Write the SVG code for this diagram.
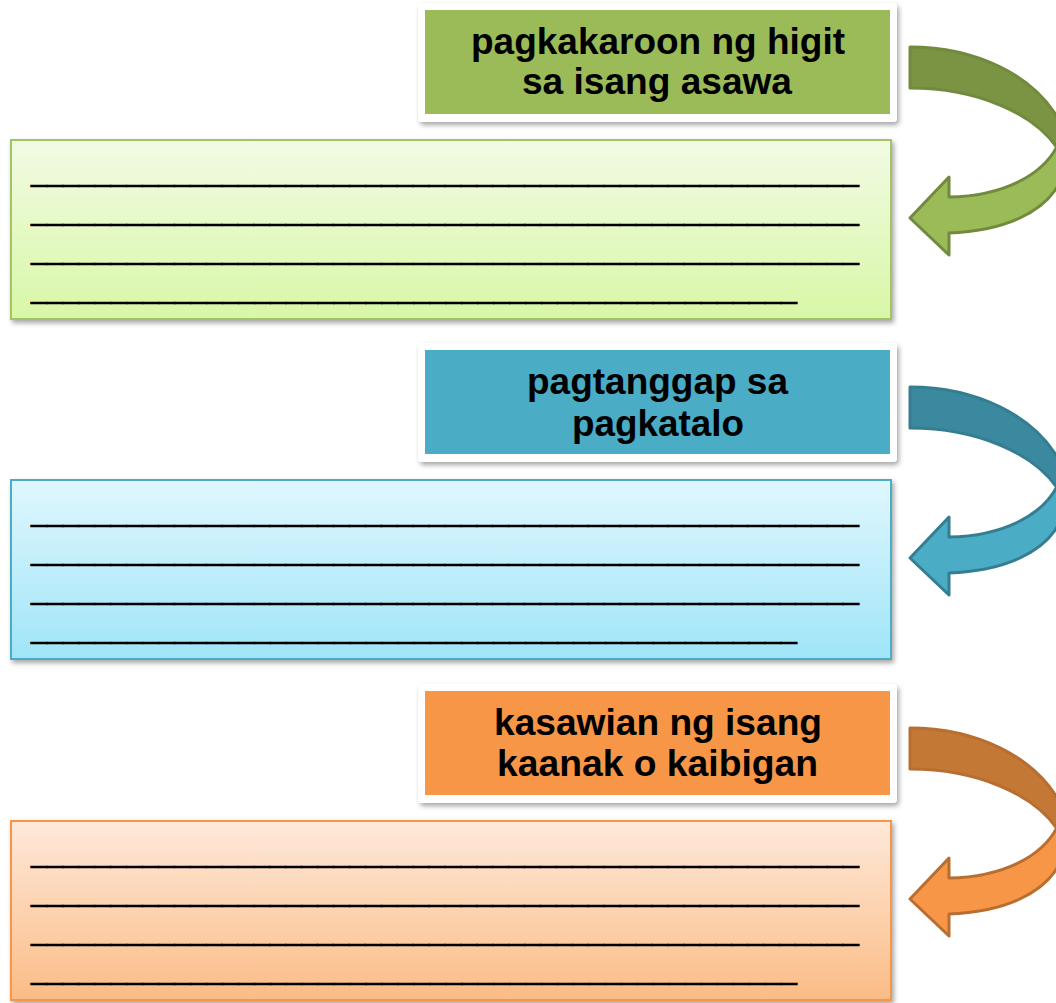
<svg xmlns="http://www.w3.org/2000/svg" width="1056" height="1003" viewBox="0 0 1056 1003">
<defs>
<filter id="sh" x="-5%" y="-10%" width="112%" height="130%">
<feDropShadow dx="2" dy="3" stdDeviation="2.5" flood-color="#000" flood-opacity="0.35"/>
</filter>
<linearGradient id="gG" x1="0" y1="0" x2="0" y2="1"><stop offset="0" stop-color="#F2FBE4"/><stop offset="1" stop-color="#D8F7A6"/></linearGradient>
<linearGradient id="gB" x1="0" y1="0" x2="0" y2="1"><stop offset="0" stop-color="#E0F7FE"/><stop offset="1" stop-color="#9FE5F8"/></linearGradient>
<linearGradient id="gO" x1="0" y1="0" x2="0" y2="1"><stop offset="0" stop-color="#FEE9DA"/><stop offset="1" stop-color="#FBBC86"/></linearGradient>
</defs>
<style>
.card{fill:#fff;filter:url(#sh)}
.hdr{font-family:"Liberation Sans",Arial,sans-serif;font-weight:bold;font-size:36px;fill:#000;text-anchor:start}
.ul{font-family:"Liberation Sans",Arial,sans-serif;font-size:29px;fill:#000;stroke:#000;stroke-width:0.6}
.box{stroke-width:2;filter:url(#sh)}
.arr{stroke-width:3;stroke-linejoin:round}
</style>
<rect width="1056" height="1003" fill="#fff"/>

<g id="panel1">
<g id="header1">
<rect class="card" x="418" y="3" width="479" height="119" rx="4"/>
<rect x="425" y="10" width="465" height="104" fill="#9BBB59"/>
<text class="hdr" x="471" y="54" textLength="374" lengthAdjust="spacingAndGlyphs">pagkakaroon ng higit</text>
<text class="hdr" x="522" y="94" textLength="270" lengthAdjust="spacingAndGlyphs">sa isang asawa</text>
</g>
<g id="box1">
<rect class="box" x="11" y="140" width="880" height="179" fill="url(#gG)" stroke="#A3C464"/>
<text class="ul" x="31" y="181" textLength="828" lengthAdjust="spacingAndGlyphs">____________________________________________________</text>
<text class="ul" x="31" y="220" textLength="828" lengthAdjust="spacingAndGlyphs">____________________________________________________</text>
<text class="ul" x="31" y="259" textLength="828" lengthAdjust="spacingAndGlyphs">____________________________________________________</text>
<text class="ul" x="31" y="298" textLength="766" lengthAdjust="spacingAndGlyphs">________________________________________________</text>
</g>
</g>

<g id="panel2" transform="translate(0,340)">
<g id="header2">
<rect class="card" x="418" y="3" width="479" height="119" rx="4"/>
<rect x="425" y="10" width="465" height="104" fill="#4BACC6"/>
<text class="hdr" x="527" y="54" textLength="261" lengthAdjust="spacingAndGlyphs">pagtanggap sa</text>
<text class="hdr" x="572" y="96" textLength="172" lengthAdjust="spacingAndGlyphs">pagkatalo</text>
</g>
<g id="box2">
<rect class="box" x="11" y="140" width="880" height="179" fill="url(#gB)" stroke="#4BACC6"/>
<text class="ul" x="31" y="181" textLength="828" lengthAdjust="spacingAndGlyphs">____________________________________________________</text>
<text class="ul" x="31" y="220" textLength="828" lengthAdjust="spacingAndGlyphs">____________________________________________________</text>
<text class="ul" x="31" y="259" textLength="828" lengthAdjust="spacingAndGlyphs">____________________________________________________</text>
<text class="ul" x="31" y="298" textLength="766" lengthAdjust="spacingAndGlyphs">________________________________________________</text>
</g>
</g>

<g id="panel3" transform="translate(0,681)">
<g id="header3">
<rect class="card" x="418" y="3" width="479" height="119" rx="4"/>
<rect x="425" y="10" width="465" height="104" fill="#F79646"/>
<text class="hdr" x="494" y="54" textLength="328" lengthAdjust="spacingAndGlyphs">kasawian ng isang</text>
<text class="hdr" x="497" y="95" textLength="321" lengthAdjust="spacingAndGlyphs">kaanak o kaibigan</text>
</g>
<g id="box3">
<rect class="box" x="11" y="140" width="880" height="179" fill="url(#gO)" stroke="#F79646"/>
<text class="ul" x="31" y="181" textLength="828" lengthAdjust="spacingAndGlyphs">____________________________________________________</text>
<text class="ul" x="31" y="220" textLength="828" lengthAdjust="spacingAndGlyphs">____________________________________________________</text>
<text class="ul" x="31" y="259" textLength="828" lengthAdjust="spacingAndGlyphs">____________________________________________________</text>
<text class="ul" x="31" y="298" textLength="766" lengthAdjust="spacingAndGlyphs">________________________________________________</text>
</g>
</g>

<g id="connectors">
<g id="arrow1">
<path class="arr" d="M910,47 C975,47 1035,75 1060,122 L1060,152 C1035,112 975,88 910,88 Z" fill="#7A9443" stroke="#718A3E"/>
<path class="arr" d="M1060,140 C1045,177 1000,196 949,197 L949,177 L910,218 L949,255 L949,233 C1005,231 1045,212 1060,182 Z" fill="#9BBB59" stroke="#718A3E"/>
</g>
<g id="arrow2" transform="translate(0,340)">
<path class="arr" d="M910,47 C975,47 1035,75 1060,122 L1060,152 C1035,112 975,88 910,88 Z" fill="#3A899E" stroke="#357E91"/>
<path class="arr" d="M1060,140 C1045,177 1000,196 949,197 L949,177 L910,218 L949,255 L949,233 C1005,231 1045,212 1060,182 Z" fill="#4BACC6" stroke="#357E91"/>
</g>
<g id="arrow3" transform="translate(0,681)">
<path class="arr" d="M910,47 C975,47 1035,75 1060,122 L1060,152 C1035,112 975,88 910,88 Z" fill="#C47835" stroke="#B86E30"/>
<path class="arr" d="M1060,140 C1045,177 1000,196 949,197 L949,177 L910,218 L949,255 L949,233 C1005,231 1045,212 1060,182 Z" fill="#F79646" stroke="#B86E30"/>
</g>
</g>
</svg>
